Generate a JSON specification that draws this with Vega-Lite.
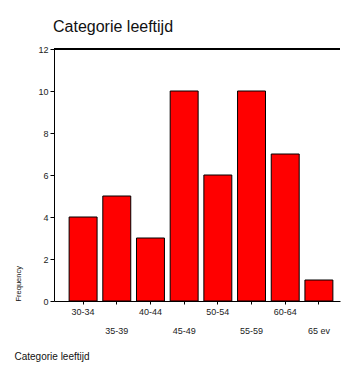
{
  "$schema": "https://vega.github.io/schema/vega-lite/v6.json",
  "width": 286,
  "height": 252,
  "autosize": {"type": "none"},
  "padding": {"left": 54, "top": 49, "right": 6, "bottom": 70},
  "background": "white",
  "config": {
    "font": "Liberation Sans",
    "view": {"stroke": null},
    "axis": {"domainColor": "black", "tickColor": "black", "labelColor": "#222", "titleColor": "#111", "grid": false, "labelFont": "Liberation Sans", "titleFont": "Liberation Sans", "titleFontWeight": "normal"}
  },
  "title": {"text": "Categorie leeftijd", "anchor": "start", "frame": "group", "fontSize": 16, "fontWeight": "normal", "font": "Liberation Sans", "color": "#111", "offset": 10, "dx": -1},
  "data": {"values": [
    {"cat": "30-34", "n": 4},
    {"cat": "35-39", "n": 5},
    {"cat": "40-44", "n": 3},
    {"cat": "45-49", "n": 10},
    {"cat": "50-54", "n": 6},
    {"cat": "55-59", "n": 10},
    {"cat": "60-64", "n": 7},
    {"cat": "65 ev", "n": 1}
  ]},
  "layer": [
    {
      "mark": {"type": "bar", "fill": "#ff0000", "stroke": "black", "strokeWidth": 1},
      "encoding": {
        "x": {"field": "cat", "type": "nominal", "sort": null,
          "scale": {"paddingInner": 0.17, "paddingOuter": 0.33, "align": 0.68},
          "axis": {"title": "Categorie leeftijd", "labelAngle": 0, "labelFontSize": 9, "labelOverlap": false,
            "labelExpr": "datum.index * 7 % 2 > 0.5 ? ['', datum.label] : datum.label",
            "labelLineHeight": 19, "labelPadding": 3, "labelBaseline": "top",
            "tickSize": 3, "titleFontSize": 10, "titleAnchor": "start", "titleAlign": "left",
            "titleX": -40, "titleY": 58, "titleBaseline": "alphabetic"}},
        "y": {"field": "n", "type": "quantitative",
          "scale": {"domain": [0, 12], "nice": false},
          "axis": {"title": "Frequency", "values": [0, 2, 4, 6, 8, 10, 12], "labelFontSize": 9, "tickSize": 4, "labelPadding": 2,
            "titleFontSize": 7.5, "titleAngle": 270, "titleAlign": "left", "titleBaseline": "middle", "titleX": -36, "titleY": 252}}
      }
    },
    {
      "mark": {"type": "rule", "color": "black", "strokeWidth": 1.2},
      "encoding": {"y": {"datum": 12}}
    }
  ]
}
